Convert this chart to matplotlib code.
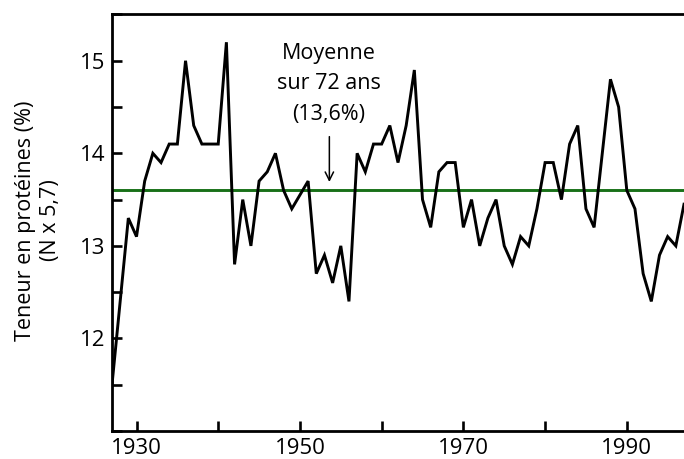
import matplotlib
matplotlib.use("Agg")
import matplotlib.pyplot as plt
from matplotlib.ticker import MultipleLocator, FixedLocator

plt.rcParams['font.family'] = ['Open Sans', 'DejaVu Sans']

years = list(range(1927, 1998))
protein = [11.5, 12.4, 13.3, 13.1, 13.7, 14.0, 13.9, 14.1, 14.1, 15.0,
           14.3, 14.1, 14.1, 14.1, 15.2, 12.8, 13.5, 13.0, 13.7, 13.8,
           14.0, 13.6, 13.4, 13.55, 13.7, 12.7, 12.9, 12.6, 13.0, 12.4,
           14.0, 13.8, 14.1, 14.1, 14.3, 13.9, 14.3, 14.9, 13.5, 13.2,
           13.8, 13.9, 13.9, 13.2, 13.5, 13.0, 13.3, 13.5, 13.0, 12.8,
           13.1, 13.0, 13.4, 13.9, 13.9, 13.5, 14.1, 14.3, 13.4, 13.2,
           14.0, 14.8, 14.5, 13.6, 13.4, 12.7, 12.4, 12.9, 13.1, 13.0,
           13.45]
mean_value = 13.6
x_ticks = [1930, 1940, 1950, 1960, 1970, 1980, 1990]
x_labels = ["1930", "", "1950", "", "1970", "", "1990"]
y_ticks = [12, 13, 14, 15]
ylabel = "Teneur en protéines (%)\n(N x 5,7)"
annotation = "Moyenne\nsur 72 ans\n(13,6%)"

W, H = 684, 459
fig = plt.figure(figsize=(W / 100, H / 100), dpi=100)
ax = fig.add_axes([112 / W, 1 - 431 / H, (W - 112) / W, (431 - 14) / H])

ax.axhline(mean_value, color="#187018", lw=2.1, zorder=2)
ax.plot(years, protein, color="black", lw=2.1, zorder=3,
        solid_joinstyle='miter')

ax.set_xlim(1927, 1997)
ax.set_ylim(11.0, 15.505)

ax.xaxis.set_major_locator(FixedLocator(x_ticks))
ax.set_xticklabels(x_labels)
ax.yaxis.set_major_locator(FixedLocator(y_ticks))
ax.yaxis.set_minor_locator(MultipleLocator(0.5))

ax.tick_params(axis='both', which='both', direction='in', length=7, width=1.9,
               labelsize=16, colors='black')
ax.tick_params(axis='x', pad=5)
ax.tick_params(axis='y', pad=5)
ax.tick_params(axis='x', which='minor', length=0)

for s in ['left', 'bottom', 'top']:
    ax.spines[s].set_linewidth(2.0)
ax.spines['right'].set_visible(False)

fig.text(38 / W, 1 - 220.5 / H, ylabel, rotation=90, ha="center", va="center",
         fontsize=15.5, linespacing=1.2, multialignment="center")

ax.annotate("", xy=(1953.6, 13.69), xytext=(1953.6, 14.18),
            arrowprops=dict(arrowstyle="->", lw=1.1, color="black",
                            shrinkA=0, shrinkB=0, mutation_scale=15))
ax.text(1953.5, 14.75, annotation, ha="center", va="center", fontsize=15.5,
        linespacing=1.6, multialignment="center")

fig.savefig("out.png", dpi=100)
